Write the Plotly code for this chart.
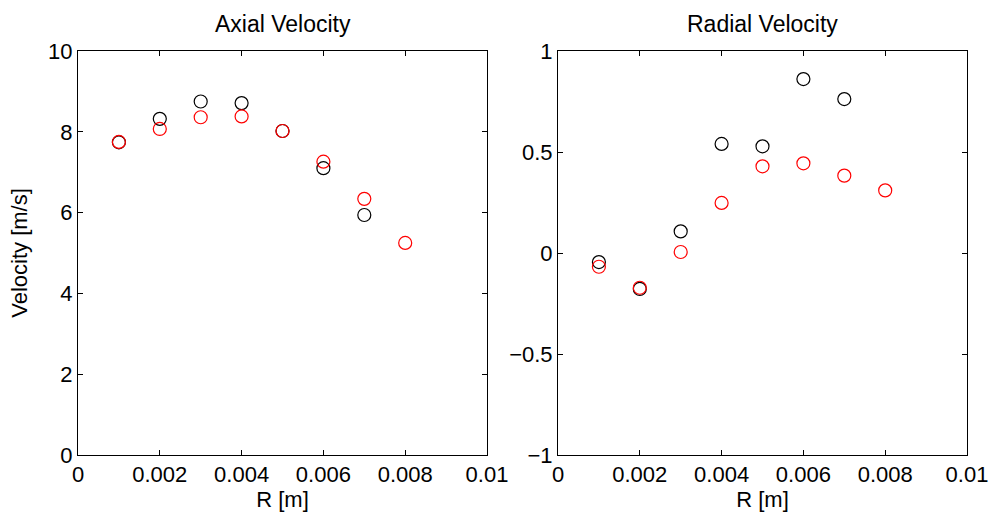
import plotly.graph_objects as go

r_black = [0.001, 0.002, 0.003, 0.004, 0.005, 0.006, 0.007]
r_red = [0.001, 0.002, 0.003, 0.004, 0.005, 0.006, 0.007, 0.008]

axial_black = [7.74, 8.32, 8.75, 8.71, 8.02, 7.10, 5.94]
axial_red = [7.75, 8.07, 8.36, 8.38, 8.02, 7.26, 6.34, 5.25]

radial_black = [-0.045, -0.178, 0.107, 0.54, 0.528, 0.861, 0.762]
radial_red = [-0.068, -0.172, 0.005, 0.248, 0.429, 0.444, 0.383, 0.31]

x_ticks = [0, 0.002, 0.004, 0.006, 0.008, 0.01]
x_ticktext = ["0", "0.002", "0.004", "0.006", "0.008", "0.01"]
ax_yticks = [0, 2, 4, 6, 8, 10]
rad_yticks = [-1, -0.5, 0, 0.5, 1]
rad_yticktext = ["\u22121", "\u22120.5", "0", "0.5", "1"]

W, H = 989, 516
FONT = "Liberation Sans, Arial, sans-serif"
FS = 22

fig = go.Figure()
mk = lambda c: dict(symbol="circle-open", size=13, color=c, line=dict(width=1.2, color=c))

fig.add_trace(go.Scatter(x=r_black, y=axial_black, mode="markers", marker=mk("black"), xaxis="x", yaxis="y"))
fig.add_trace(go.Scatter(x=r_red, y=axial_red, mode="markers", marker=mk("red"), xaxis="x", yaxis="y"))
fig.add_trace(go.Scatter(x=r_black, y=radial_black, mode="markers", marker=mk("black"), xaxis="x2", yaxis="y2"))
fig.add_trace(go.Scatter(x=r_red, y=radial_red, mode="markers", marker=mk("red"), xaxis="x2", yaxis="y2"))

y0 = (H - 455) / H
y1 = (H - 51) / H
d1 = [78 / W, 487 / W]
d2 = [558 / W, 967 / W]

common = dict(showline=True, linecolor="black", linewidth=1, mirror="ticks", ticks="inside",
              ticklen=5, tickcolor="black", showgrid=False, zeroline=False, automargin=False,
              tickfont=dict(size=FS, color="black", family=FONT))

fig.update_layout(
    template="none",
    width=W, height=H, margin=dict(l=0, r=0, t=0, b=0, autoexpand=False),
    paper_bgcolor="white", plot_bgcolor="white", showlegend=False,
    font=dict(family=FONT, color="black", size=FS),
    xaxis=dict(domain=d1, range=[0, 0.01], tickvals=x_ticks, ticktext=x_ticktext, anchor="y",
               title=dict(text="R [m]", font=dict(size=FS), standoff=2), **common),
    yaxis=dict(domain=[y0, y1], range=[0, 10], tickvals=ax_yticks, anchor="x",
               title=dict(text="Velocity [m/s]", font=dict(size=FS), standoff=14), **common),
    xaxis2=dict(domain=d2, range=[0, 0.01], tickvals=x_ticks, ticktext=x_ticktext, anchor="y2",
                title=dict(text="R [m]", font=dict(size=FS), standoff=2), **common),
    yaxis2=dict(domain=[y0, y1], range=[-1, 1], tickvals=rad_yticks, ticktext=rad_yticktext, anchor="x2", **common),
    annotations=[
        dict(text="Axial Velocity", x=(d1[0] + d1[1]) / 2, y=(H - 24) / H, xref="paper", yref="paper",
             showarrow=False, font=dict(size=23), xanchor="center", yanchor="middle"),
        dict(text="Radial Velocity", x=(d2[0] + d2[1]) / 2, y=(H - 24) / H, xref="paper", yref="paper",
             showarrow=False, font=dict(size=23), xanchor="center", yanchor="middle"),
    ],
)

fig.write_html("out.html")
